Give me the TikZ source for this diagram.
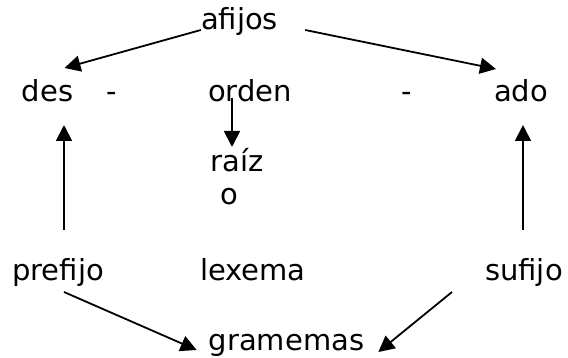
\documentclass[tikz,border=0pt]{standalone}
\usepackage{fontspec}
\setmainfont{DejaVu Sans}
\usetikzlibrary{arrows.meta}

\begin{document}
\begin{tikzpicture}[x=1pt,y=1pt]
\tikzstyle{every node}+=[inner sep=0pt,anchor=base,font=\fontsize{29}{35}\selectfont]
\tikzstyle{arr}=[line width=1.8pt,-{Triangle[length=16pt,width=16pt]}]
\useasboundingbox (0,0) rectangle (568,-358);

\node (afijos) at (239.5,-30) {afijos};
\node (des) at (47.5,-102) {des};
\node (guion1) at (112,-102) {-};
\node (orden) at (250,-102) {orden};
\node (guion2) at (407,-102) {-};
\node (ado) at (521,-102) {ado};
\node (raiz) at (237,-172) {raíz};
\node (raizo) at (229,-205) {o};
\node (prefijo) at (58,-280) {prefijo};
\node (lexema) at (253,-280) {lexema};
\node (sufijo) at (524,-280) {sufijo};
\node (gramemas) at (286.5,-350) {gramemas};

\draw [arr] (afijos.base west) -- ([xshift=17pt,yshift=34pt]des.base);
\draw [arr] ([xshift=27pt]afijos.base east) -- ([xshift=-25pt,yshift=33pt]ado.base);
\draw [arr] ([xshift=-18pt,yshift=4pt]orden.base) -- ([xshift=-5pt,yshift=25pt]raiz.base);
\draw [arr] ([xshift=6pt,yshift=50pt]prefijo.base) -- ([xshift=16.5pt,yshift=-23pt]des.base);
\draw [arr] ([xshift=-1pt,yshift=50pt]sufijo.base) -- ([xshift=2pt,yshift=-23pt]ado.base);
\draw [arr] ([xshift=6pt,yshift=-12pt]prefijo.base) -- ([xshift=-12pt]gramemas.base west);
\draw [arr] ([xshift=-72pt,yshift=-12pt]sufijo.base) -- ([xshift=14pt,yshift=-2pt]gramemas.base east);
\end{tikzpicture}
\end{document}
